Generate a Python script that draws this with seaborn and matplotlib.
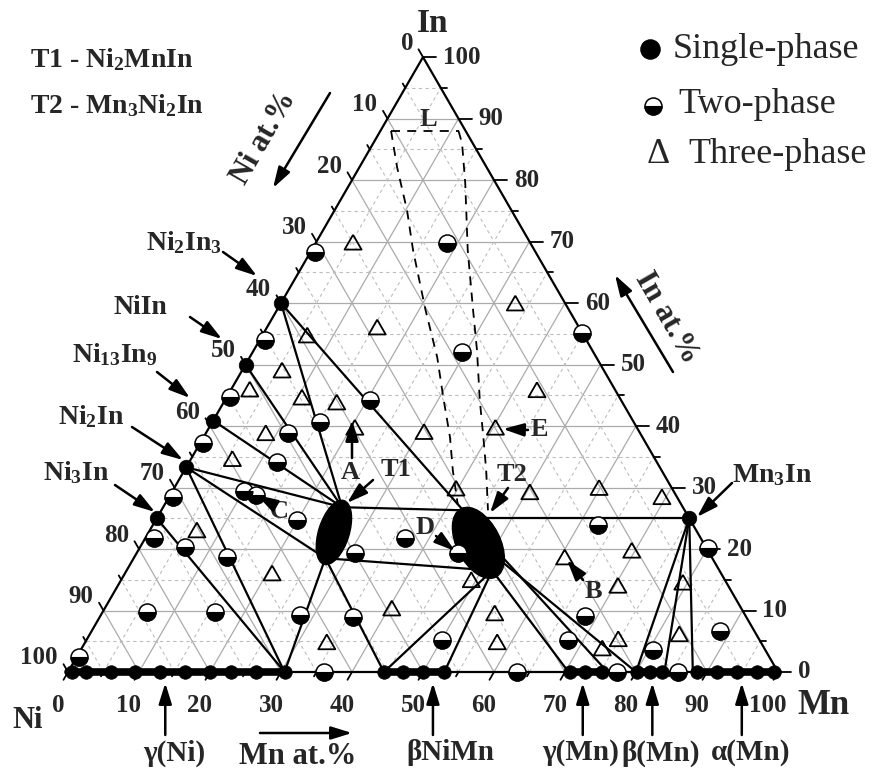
import numpy as np
import pandas as pd
import matplotlib
matplotlib.use("Agg")
import matplotlib.pyplot as plt
from matplotlib.markers import MarkerStyle
from matplotlib.patches import Ellipse
import seaborn as sns

# ---------------------------------------------------------------------------
# Ni-Mn-In isothermal section.  Compositions are (Mn at.%, In at.%); Ni = rest
# ---------------------------------------------------------------------------

# binary compounds (single phase)
compound_labels = ["Ni$_2$In$_3$", "NiIn", "Ni$_{13}$In$_9$", "Ni$_2$In", "Ni$_3$In", "Mn$_3$In"]
compound_mn = [0.0, 0.0, 0.0, 0.0, 0.0, 75.0]
compound_in = [60.0, 50.0, 40.9, 33.3, 25.0, 25.0]

# single-phase alloys on the Ni-Mn side
binary_single_mn = [0.5, 2.5, 6.0, 9.5, 13.0, 16.5, 20.0, 23.0, 26.5, 30.5,
                    44.5, 47.2, 50.0, 53.0, 70.7, 72.8, 75.2, 80.1, 82.0, 83.6,
                    88.6, 91.4, 94.2, 97.0, 99.5]

# extent of the solid solutions on the Ni-Mn side
solution_start_mn = [0.0, 44.5, 70.7, 80.1, 88.6]
solution_end_mn = [30.5, 53.0, 75.2, 83.6, 100.0]

# two-phase alloys
two_phase_mn = [0.3, 0.7, 18.5, 44.8, 29.5, 20.4, 15.2, 0.7, 0.5, 11.6, 0.4, 12.4,
                0.6, 10.1, 12.1, 19.9, 1.2, 6.3, 13.0, 6.2, 15.8, 28.0, 30.8, 36.6,
                45.3, 62.7, 35.7, 50.1, 67.8, 68.2, 80.0, 80.6, 88.5,
                36.0, 63.2, 77.3, 85.9]
two_phase_in = [2.4, 68.3, 69.8, 55.2, 52.0, 44.2, 40.7, 54.0, 44.7, 38.9, 37.2, 34.1,
                28.5, 29.4, 28.8, 24.7, 21.8, 20.3, 18.7, 9.8, 9.8, 9.3, 19.3, 21.8,
                19.3, 23.9, 8.9, 5.2, 5.2, 9.1, 20.2, 3.6, 6.6,
                0.0, 0.0, 0.0, 0.0]

# three-phase alloys
three_phase_mn = [5.2, 33.0, 15.5, 6.3, 43.1, 10.6, 15.9, 20.5, 30.6, 40.3, 5.6, 2.6,
                  8.4, 5.8, 6.6, 20.7, 39.7, 50.4, 59.8, 60.6, 49.3, 40.4, 55.3, 34.0,
                  58.0, 73.3, 74.8, 83.0, 69.4, 69.5, 70.4, 79.3]
three_phase_in = [69.9, 60.0, 56.1, 54.8, 45.9, 44.7, 43.9, 39.8, 39.1, 39.8, 49.1, 46.0,
                  38.9, 34.7, 23.1, 16.1, 29.9, 29.3, 30.0, 18.7, 15.0, 10.4, 9.6, 4.9,
                  4.9, 3.9, 5.4, 6.2, 28.5, 19.8, 14.1, 14.6]

# ternary compounds T1 (Ni2MnIn) and T2 (Mn3Ni2In): homogeneity regions
ternary_names = ["T1", "T2"]
ternary_mn = [26.1, 47.3]
ternary_in = [22.7, 21.0]
ternary_length = [9.4, 10.8]
ternary_width = [4.3, 6.1]
ternary_angle = [72.6, -63.0]

# tie lines / phase-field boundaries
tie_start_mn = [0.0, 0.0, 0.0, 0.0, 0.0, 0.0, 0.0, 0.0, 27.0, 27.0, 25.2, 27.0,
                51.5, 51.5, 51.5, 49.5, 50.5, 45.0, 75.0, 75.0, 75.0]
tie_start_in = [60.0, 60.0, 50.0, 40.9, 33.3, 33.3, 33.3, 25.0, 18.5, 18.5, 26.8, 18.5,
                16.5, 16.5, 16.5, 20.5, 19.0, 25.0, 25.0, 25.0, 25.0]
tie_end_mn = [25.2, 42.5, 25.2, 25.2, 25.2, 27.0, 30.5, 30.5, 30.5, 44.5, 42.5, 51.5,
              44.5, 53.0, 70.5, 76.0, 80.0, 75.0, 80.0, 84.0, 88.0]
tie_end_in = [26.8, 26.3, 26.8, 26.8, 26.8, 18.5, 0.0, 0.0, 0.0, 0.0, 26.3, 16.5,
              0.0, 0.0, 0.0, 0.0, 0.0, 25.0, 0.0, 0.0, 0.0]

# liquid (L) field boundary, dashed
liq_left_mn = [1.5, 5.3, 10.2, 14.3, 20.9, 26.4, 30.5, 34.7, 37.8, 41.3]
liq_left_in = [88.0, 82.1, 75.1, 68.6, 58.9, 51.2, 44.7, 38.2, 32.8, 27.2]
liq_right_mn = [11.0, 12.5, 16.2, 22.0, 27.6, 31.4, 35.9, 39.4, 42.5, 46.0]
liq_right_in = [88.0, 86.0, 79.5, 68.6, 58.9, 52.4, 44.2, 38.2, 32.8, 26.3]

# solid solutions / phases on the Ni-Mn side
phase_names = ["γ(Ni)", "βNiMn", "γ(Mn)", "β(Mn)", "α(Mn)"]
phase_mn = [13.7, 51.4, 72.5, 82.3, 94.9]

axis_ticks = list(range(0, 101, 10))

# ---------------------------------------------------------------------------
sns.set_style("white")
plt.rcParams["font.family"] = ["Liberation Serif", "DejaVu Serif"]
plt.rcParams["mathtext.fontset"] = "custom"
plt.rcParams["mathtext.rm"] = "Liberation Serif:bold"
plt.rcParams["mathtext.it"] = "Liberation Serif:bold"
plt.rcParams["mathtext.bf"] = "Liberation Serif:bold"
plt.rcParams["mathtext.default"] = "rm"

H = np.sqrt(3) / 2
PX = 7.1                 # pixels per at.%
X0, Y0 = 68, 672         # pixel position of the Ni corner


def cart(mn, inn):
    mn = np.asarray(mn, float)
    inn = np.asarray(inn, float)
    return mn + inn / 2, inn * H


def pix(px, py):
    return (px - X0) / PX, (Y0 - py) / PX


fig = plt.figure(figsize=(8.72, 7.74), dpi=100)
ax = fig.add_axes([0, 0, 1, 1])


def segments(x0, y0, x1, y1):
    rows = []
    for i, (a, b, c, d) in enumerate(zip(x0, y0, x1, y1)):
        rows.append((i, a, b))
        rows.append((i, c, d))
    return pd.DataFrame(rows, columns=["seg", "x", "y"])


def draw_lines(df, **kw):
    sns.lineplot(data=df, x="x", y="y", units="seg", estimator=None, sort=False,
                 legend=False, ax=ax, **kw)


# ---- background grid (10 % solid, 5 % dashed)
for step_major in (True, False):
    xs0, ys0, xs1, ys1 = [], [], [], []
    for p in range(5, 100, 5):
        if (p % 10 == 0) != step_major:
            continue
        for (m0, i0, m1, i1) in [(0, p, 100 - p, p), (p, 0, p, 100 - p), (100 - p, 0, 0, 100 - p)]:
            a, b = cart(m0, i0)
            c, d = cart(m1, i1)
            xs0.append(a); ys0.append(b); xs1.append(c); ys1.append(d)
    df = segments(xs0, ys0, xs1, ys1)
    if step_major:
        draw_lines(df, color="#ababab", lw=0.9, zorder=1)
    else:
        draw_lines(df, color="#bdbdbd", lw=0.8, linestyle=(0, (3, 3)), zorder=1)

# ---- triangle frame
cx, cy = cart([0, 100, 0, 0], [0, 0, 100, 0])
frame = pd.DataFrame({"seg": 0, "x": cx, "y": cy})
draw_lines(frame, color="black", lw=1.6, zorder=3)

# ---- tick marks
tick_rows = []
k = 0
for v in range(0, 101, 5):
    L = (13 if v % 10 == 0 else 6) / PX
    Ls = (9 if v % 10 == 0 else 5) / PX
    x, y = cart(100 - v, v)                 # In axis (right)
    tick_rows += [(k, x, y), (k, x + L, y)]; k += 1
    x, y = cart(0, 100 - v)                 # Ni axis (left)
    tick_rows += [(k, x, y), (k, x - 0.5 * Ls, y + H * Ls)]; k += 1
    x, y = cart(v, 0)                       # Mn axis (bottom)
    tick_rows += [(k, x, y), (k, x - 0.5 * Ls, y - H * Ls)]; k += 1
draw_lines(pd.DataFrame(tick_rows, columns=["seg", "x", "y"]), color="black", lw=1.3, zorder=3)

# ---- tie lines
a, b = cart(tie_start_mn, tie_start_in)
c, d = cart(tie_end_mn, tie_end_in)
draw_lines(segments(a, b, c, d), color="black", lw=1.6, zorder=3)

# ---- solid-solution ranges on the Ni-Mn side
a, b = cart(solution_start_mn, np.zeros(len(solution_start_mn)))
c, d = cart(solution_end_mn, np.zeros(len(solution_end_mn)))
draw_lines(segments(a, b, c, d), color="black", lw=5.5, zorder=5)

# ---- liquid field boundary
liq_rows = []
for seg, (mm, ii) in enumerate([(liq_left_mn, liq_left_in), (liq_right_mn, liq_right_in),
                                ([liq_left_mn[0], liq_right_mn[0]], [liq_left_in[0], liq_right_in[0]])]):
    x, y = cart(mm, ii)
    liq_rows += [(seg, xx, yy) for xx, yy in zip(x, y)]
draw_lines(pd.DataFrame(liq_rows, columns=["seg", "x", "y"]), color="black", lw=1.3,
           linestyle=(0, (5, 4)), zorder=2)

# ---- ternary compound regions
for m, i, L, W, ang in zip(ternary_mn, ternary_in, ternary_length, ternary_width, ternary_angle):
    x, y = cart(m, i)
    ax.add_patch(Ellipse((float(x), float(y)), L, W, angle=ang, fc="black", ec="black", zorder=4))

# ---- data points
x, y = cart(binary_single_mn, np.zeros(len(binary_single_mn)))
sns.scatterplot(x=x, y=y, ax=ax, legend=False, marker="o", s=95, color="black",
                edgecolor="black", linewidth=0.5, zorder=6)
x, y = cart(compound_mn, compound_in)
sns.scatterplot(x=x, y=y, ax=ax, legend=False, marker="o", s=110, color="black",
                edgecolor="black", linewidth=0.5, zorder=6)

x, y = cart(two_phase_mn, two_phase_in)
sns.scatterplot(x=x, y=y, ax=ax, legend=False, marker="o", s=150, color="white",
                edgecolor="black", linewidth=1.1, zorder=5)
sns.scatterplot(x=x, y=y, ax=ax, legend=False, marker=MarkerStyle("o", fillstyle="bottom"),
                s=150, color="black", edgecolor="black", linewidth=0.8, zorder=6)

tri = [(0, 1.0), (-1.15, -1.0), (1.15, -1.0), (0, 1.0)]
x, y = cart(three_phase_mn, three_phase_in)
sns.scatterplot(x=x, y=y, ax=ax, legend=False, marker=tri, s=150, color="black",
                facecolors="none", edgecolor="black", linewidth=1.3, zorder=5)

# ---- axis numbers
tick_font = dict(fontsize=18, fontweight="bold", zorder=7)
for v in axis_ticks:
    x, y = cart(100 - v, v)
    ax.text(x + 20 / PX, y, str(v), ha="left", va="center", **tick_font)
    x, y = cart(0, 100 - v)
    ax.text(x - 10 / PX, y + 14 / PX, str(v), ha="right", va="center", **tick_font)
    x, y = cart(v, 0)
    ax.text(x - 10 / PX, y - 34 / PX, str(v), ha="center", va="center", **tick_font)

# corner element names
ax.text(*pix(433, 24), "In", fontsize=24, fontweight="bold", ha="center", va="center")
ax.text(*pix(28, 721), "Ni", fontsize=22, fontweight="bold", ha="center", va="center")
ax.text(*pix(823, 706), "Mn", fontsize=25, fontweight="bold", ha="center", va="center")

arrow = dict(arrowstyle="-|>,head_length=0.9,head_width=0.28", color="black", lw=1.8,
             shrinkA=0, shrinkB=0, mutation_scale=14)

# axis titles with direction arrows
ax.text(*pix(264, 138), "Ni at.%", rotation=60, fontsize=22, fontweight="bold",
        ha="center", va="center", rotation_mode="anchor")
ax.annotate("", xy=pix(273, 188), xytext=pix(330, 93), arrowprops=arrow)
ax.text(*pix(667, 318), "In at.%", rotation=-60, fontsize=22, fontweight="bold",
        ha="center", va="center", rotation_mode="anchor")
ax.annotate("", xy=pix(615, 275), xytext=pix(673, 372), arrowprops=arrow)
ax.text(*pix(298, 757), "Mn at.%", fontsize=22, fontweight="bold", ha="center", va="center")
ax.annotate("", xy=pix(352, 733), xytext=pix(260, 733), arrowprops=arrow)

# compound labels
label_font = dict(fontsize=20, fontweight="bold", ha="center", va="center", zorder=7)
compound_text = [(184, 243), (140, 307), (115, 355), (91, 417), (76, 473), (772, 475)]
compound_arrow = [((223, 252), (257, 276)), ((190, 317), (222, 339)), ((157, 372), (190, 398)),
                  ((132, 427), (183, 460)), ((115, 485), (155, 512)), ((732, 483), (697, 517))]
for name, tp, (p0, p1) in zip(compound_labels, compound_text, compound_arrow):
    ax.text(*pix(*tp), name, **label_font)
    ax.annotate("", xy=pix(*p1), xytext=pix(*p0), arrowprops=arrow, zorder=7)

# ternary phase and specimen labels
marks = [("T1", (396, 470), (373, 480), (347, 503)),
         ("T2", (512, 475), (508, 488), (490, 513)),
         ("A", (350, 473), (352, 458), (352, 420)),
         ("C", (279, 511), (269, 502), (257, 495)),
         ("D", (425, 528), (436, 536), (455, 551)),
         ("B", (593, 591), (583, 580), (567, 560)),
         ("E", (539, 430), (528, 430), (503, 429))]
for name, tp, p0, p1 in marks:
    ax.text(*pix(*tp), name, fontsize=19, fontweight="bold", ha="center", va="center", zorder=7)
    ax.annotate("", xy=pix(*p1), xytext=pix(*p0), arrowprops=arrow, zorder=7)
ax.text(*pix(428, 120), "L", fontsize=19, fontweight="bold", ha="center", va="center", zorder=7)

# phases on the Ni-Mn side
phase_label_px = [174, 450, 581, 661, 751]
for name, m, lx in zip(phase_names, phase_mn, phase_label_px):
    x, _ = cart(m, 0)
    ax.annotate("", xy=(x, pix(0, 683)[1]), xytext=(x, pix(0, 735)[1]), arrowprops=arrow)
    ax.text(pix(lx, 0)[0], pix(0, 753)[1], name, fontsize=21, fontweight="bold",
            ha="center", va="center")

# compound legend (top left)
ax.text(*pix(30, 67), "T1 - Ni$_2$MnIn", fontsize=20, fontweight="bold", ha="left", va="baseline")
ax.text(*pix(30, 113), "T2 - Mn$_3$Ni$_2$In", fontsize=20, fontweight="bold", ha="left", va="baseline")

# symbol legend (top right)
ax.scatter(*pix(650, 49), s=190, color="black", zorder=6)
ax.scatter(*pix(653, 106), s=150, facecolor="white", edgecolor="black", linewidth=1.1, zorder=5)
ax.scatter(*pix(653, 106), s=150, marker=MarkerStyle("o", fillstyle="bottom"),
           color="black", edgecolor="black", linewidth=0.8, zorder=6)
leg_font = dict(fontsize=26, ha="left", va="baseline")
ax.text(*pix(673, 58), "Single-phase", **leg_font)
ax.text(*pix(678, 113), "Two-phase", **leg_font)
ax.text(*pix(647, 163), "Δ", **leg_font)
ax.text(*pix(688, 163), "Three-phase", **leg_font)

ax.set_xlim(-X0 / PX, (872 - X0) / PX)
ax.set_ylim(-(774 - Y0) / PX, Y0 / PX)
ax.set_aspect("auto")
ax.axis("off")

fig.savefig("out.png", dpi=100)
